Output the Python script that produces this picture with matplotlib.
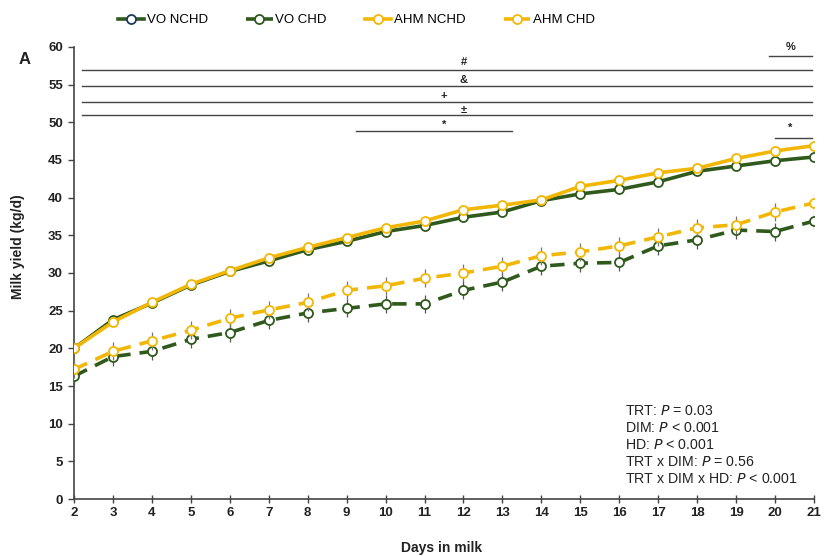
import matplotlib
matplotlib.use("Agg")
import matplotlib.pyplot as plt
from matplotlib.lines import Line2D

plt.rcParams['font.family'] = ['Liberation Sans', 'DejaVu Sans']

days = list(range(2, 22))
vo_nchd = [20.0, 23.8, 26.0, 28.4, 30.2, 31.6, 33.1, 34.2, 35.5, 36.3, 37.4, 38.1, 39.6, 40.5, 41.1, 42.1, 43.5, 44.2, 44.9, 45.4]
vo_chd = [16.3, 18.9, 19.6, 21.2, 22.1, 23.7, 24.7, 25.3, 25.9, 25.9, 27.7, 28.8, 30.9, 31.3, 31.4, 33.6, 34.4, 35.7, 35.5, 36.9]
ahm_nchd = [20.0, 23.5, 26.1, 28.5, 30.3, 32.0, 33.4, 34.7, 36.0, 36.9, 38.4, 39.0, 39.7, 41.5, 42.3, 43.3, 43.9, 45.2, 46.2, 46.9]
ahm_chd = [17.2, 19.6, 21.0, 22.4, 24.0, 25.1, 26.1, 27.7, 28.3, 29.3, 30.0, 30.9, 32.3, 32.8, 33.6, 34.8, 36.0, 36.4, 38.1, 39.3]
chd_err = 1.2

series_names = ['VO NCHD', 'VO CHD', 'AHM NCHD', 'AHM CHD']

# significance brackets: (x_start, x_end, y_line, label, x_label, y_label)
sig_long = [
    (2.2, 20.95, 57.0, '#', 12.0, 58.0),
    (2.2, 20.95, 54.8, '&', 12.0, 55.6),
    (2.2, 20.95, 52.7, '+', 11.5, 53.5),
    (2.2, 20.95, 51.0, '±', 12.0, 51.7),
    (9.25, 13.25, 48.8, '*', 11.5, 49.7),
    (19.85, 20.95, 58.8, '%', 20.4, 60.0),
    (20.0, 20.95, 47.9, '*', 20.4, 49.3),
]

stats_text = ["TRT: $\\it{P}$ = 0.03", "DIM: $\\it{P}$ < 0.001", "HD: $\\it{P}$ < 0.001",
              "TRT x DIM: $\\it{P}$ = 0.56", "TRT x DIM x HD: $\\it{P}$ < 0.001"]

green = '#2f5a1c'
gold = '#f2b705'

fig = plt.figure(figsize=(8.25, 5.56), dpi=100)
ax = fig.add_axes([0.0897, 0.1025, 0.897, 0.813])

mk = dict(marker='o', markersize=6.5, markerfacecolor='white', markeredgewidth=1.3)

ax.errorbar(days, vo_chd, yerr=chd_err, color=green, lw=2.6, ls=(0, (4, 2.5)),
            ecolor='#555555', elinewidth=0.9, capsize=0, markeredgecolor=green, **mk, zorder=3)
ax.errorbar(days, ahm_chd, yerr=chd_err, color=gold, lw=2.6, ls=(0, (4, 2.5)),
            ecolor='#777777', elinewidth=0.9, capsize=0, markeredgecolor=gold, **mk, zorder=4)
ax.plot(days, vo_nchd, color=green, lw=2.6, markeredgecolor=green, **mk, zorder=5)
ax.plot(days, ahm_nchd, color=gold, lw=2.6, markeredgecolor=gold, **mk, zorder=6)

for x0, x1, yl, lab, xl, ytxt in sig_long:
    ax.plot([x0, x1], [yl, yl], color='#444444', lw=1.0, clip_on=False, zorder=2)
    ax.text(xl, ytxt, lab, ha='center', va='center', fontsize=8, fontweight='bold',
            color='#222222', clip_on=False)

ax.set_xlim(2, 21)
ax.set_ylim(0, 60)
ax.set_xticks(days)
ax.set_yticks(range(0, 61, 5))
ax.spines['top'].set_visible(False)
ax.spines['right'].set_visible(False)
ax.spines['left'].set_color('#444444')
ax.spines['bottom'].set_color('#444444')
ax.spines['left'].set_linewidth(1.2)
ax.spines['bottom'].set_linewidth(1.2)
ax.tick_params(axis='x', direction='inout', length=6, width=1.0, colors='#444444', labelcolor='#222222', labelsize=9.5, pad=3)
ax.tick_params(axis='y', direction='out', length=4, width=1.0, colors='#444444', labelcolor='#222222', labelsize=9.5, pad=4)
for lbl in ax.get_xticklabels() + ax.get_yticklabels():
    lbl.set_fontweight('bold')

fig.text(0.022, 0.556, 'Milk yield (kg/d)', rotation=90, ha='center', va='center',
         fontsize=10, fontweight='bold', color='#222222')
fig.text(0.535, 0.014, 'Days in milk', ha='center', va='center',
         fontsize=10, fontweight='bold', color='#222222')
fig.text(0.030, 0.893, 'A', ha='center', va='center', fontsize=12, fontweight='bold', color='#222222')

y0 = 411
for i, s in enumerate(stats_text):
    fig.text(625 / 825, 1 - (y0 + i * 17) / 556, s, ha='left', va='center', fontsize=10.2, color='#222222')

handles = [
    Line2D([], [], color=green, lw=2.6, markeredgecolor='#1f3a5a', **mk),
    Line2D([], [], color=green, lw=2.6, ls=(0, (3, 1.5)), markeredgecolor=green, **mk),
    Line2D([], [], color=gold, lw=2.6, markeredgecolor=gold, **mk),
    Line2D([], [], color=gold, lw=2.6, ls=(0, (3, 1.5)), markeredgecolor=gold, **mk),
]
fig.legend(handles, series_names, loc='center', bbox_to_anchor=(0.432, 0.964), ncol=4,
           frameon=False, fontsize=9.5, handlelength=2.0, handletextpad=0.2,
           columnspacing=2.9)

fig.savefig('out.png', dpi=100)
